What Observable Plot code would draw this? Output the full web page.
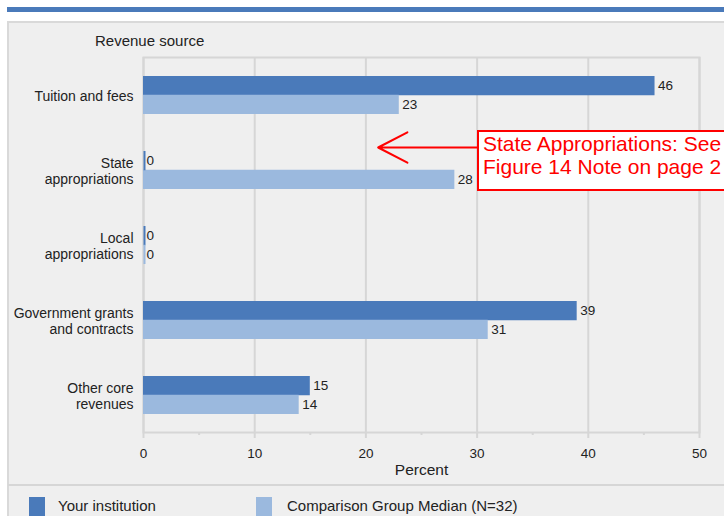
<!DOCTYPE html>
<html><head><meta charset="utf-8">
<script src="https://cdn.jsdelivr.net/npm/d3@7"></script>
<script src="https://cdn.jsdelivr.net/npm/@observablehq/plot@0.6"></script>
<style>
html,body{margin:0;padding:0}
body{width:724px;height:516px;overflow:hidden;position:relative;background:#fff;font-family:"Liberation Sans",Arial,sans-serif;color:#222}
#stripe{position:absolute;left:7px;top:7px;width:717px;height:5px;background:#4a7aba}
#panel{position:absolute;left:7px;top:21px;width:740px;height:520px;background:#efefef;border-top:2px solid #d9d9d9;border-left:2px solid #d9d9d9;box-sizing:border-box}
#sep{position:absolute;left:8px;top:484px;width:720px;height:2px;background:#d6d6d6}
#ytitle{position:absolute;left:95px;top:32px;font-size:15px;line-height:18px;white-space:nowrap}
#chart{position:absolute;left:0;top:0}
#note{position:absolute;left:477px;top:130px;width:270px;height:61px;border:2px solid #ff0000;background:#fff;color:#ff0000;font-size:21px;line-height:23px;box-sizing:border-box;padding:0 0 0 4px;white-space:nowrap}
.sw{position:absolute;top:497px;width:16px;height:19px}
.lt{position:absolute;top:497px;font-size:15px;line-height:18px;white-space:nowrap}
</style>
</head><body>
<div id="stripe"></div>
<div id="panel"></div>
<div id="sep"></div>
<div id="ytitle"></div>
<div id="chart"></div>
<div id="note"></div>
<div id="legend"></div>
<script>
// ---- data ----
const categories = ["Tuition and fees", "State appropriations", "Local appropriations", "Government grants and contracts", "Other core revenues"];
const categoryLabels = ["Tuition and fees", "State\nappropriations", "Local\nappropriations", "Government grants\nand contracts", "Other core\nrevenues"];
const seriesNames = ["Your institution", "Comparison Group Median (N=32)"];
const yourInstitution = [46, 0, 0, 39, 15];
const comparisonMedian = [23, 28, 0, 31, 14];
const xTicks = [0, 10, 20, 30, 40, 50];
const xMinorTicks = [5, 15, 25, 35, 45];
const yTitle = "Revenue source";
const xTitle = "Percent";
const noteLines = ["State Appropriations: See", "Figure 14 Note on page 2"];
const noteArrow = [{category: "State appropriations", from: 30.0, to: 21.1}];
const colors = ["#4a7aba", "#9bb9de"];

const rowsA = categories.map((c, i) => ({category: c, value: yourInstitution[i]}));
const rowsB = categories.map((c, i) => ({category: c, value: comparisonMedian[i]}));

// ---- layout ----
const W = 724, H = 516, mt = 57, mb = 84, ml = 143, mr = 25;
const pIn = 0.5, pOut = 0.25;
const step = (H - mt - mb) / (categories.length - pIn + 2 * pOut);
const bw = step * (1 - pIn);
const half = bw / 2;
const grid = "#d6d6d6";
const font = "'Liberation Sans', Arial, sans-serif";

const chart = Plot.plot({
  width: W, height: H,
  marginTop: mt, marginBottom: mb, marginLeft: ml, marginRight: mr,
  style: {background: "transparent", fontFamily: font, fontSize: "13.5px", color: "#222", overflow: "visible"},
  x: {domain: [0, 50], axis: null},
  y: {domain: categories, paddingInner: pIn, paddingOuter: pOut, axis: null},
  marks: [
    Plot.gridX({ticks: xTicks, stroke: grid, strokeOpacity: 1, strokeWidth: 2}),
    Plot.frame({stroke: grid, strokeWidth: 2}),
    Plot.axisX({ticks: xTicks, tickSize: 6, tickPadding: 10, stroke: grid, strokeWidth: 2, fill: "#222", fontSize: 13.5, label: null}),
    Plot.axisX({ticks: xMinorTicks, tickSize: 3, tickFormat: () => "", stroke: grid, strokeWidth: 2, label: null}),
    Plot.barX(rowsA, {x: "value", y: "category", fill: colors[0], insetBottom: half}),
    Plot.barX(rowsB, {x: "value", y: "category", fill: colors[1], insetTop: half}),
    Plot.tickX(rowsA, {filter: d => d.value === 0, x: "value", y: "category", stroke: colors[0], strokeWidth: 2, dx: 1, insetBottom: half}),
    Plot.tickX(rowsB, {filter: d => d.value === 0, x: "value", y: "category", stroke: colors[1], strokeWidth: 2, dx: 1, insetTop: half}),
    Plot.text(rowsA, {x: "value", y: "category", text: d => String(d.value), dy: -half / 2, dx: 3, textAnchor: "start", fill: "#222", fontSize: 13.5}),
    Plot.text(rowsB, {x: "value", y: "category", text: d => String(d.value), dy: half / 2, dx: 3, textAnchor: "start", fill: "#222", fontSize: 13.5}),
    Plot.text(categories, {y: d => d, text: (d, i) => categoryLabels[i], frameAnchor: "left", dx: -10, textAnchor: "end", fontSize: 14, lineHeight: 1.15, fill: "#222"}),
    Plot.text([xTitle], {text: d => d, frameAnchor: "bottom", dy: 42, fontSize: 15.5, fill: "#222"}),
    Plot.arrow(noteArrow, {x1: "from", x2: "to", y1: "category", y2: "category", dy: -23, stroke: "#ff0000", strokeWidth: 2, headLength: 26, headAngle: 55})
  ]
});
document.getElementById("chart").appendChild(chart);
document.getElementById("ytitle").textContent = yTitle;
document.getElementById("note").innerHTML = noteLines.map(s => `<div>${s}</div>`).join("");

const legend = document.getElementById("legend");
const legX = [[29, 58], [256, 287]];
seriesNames.forEach((s, i) => {
  const sw = document.createElement("div");
  sw.className = "sw"; sw.style.left = legX[i][0] + "px"; sw.style.background = colors[i];
  const t = document.createElement("div");
  t.className = "lt"; t.style.left = legX[i][1] + "px"; t.textContent = s;
  legend.appendChild(sw); legend.appendChild(t);
});
</script>
</body></html>
